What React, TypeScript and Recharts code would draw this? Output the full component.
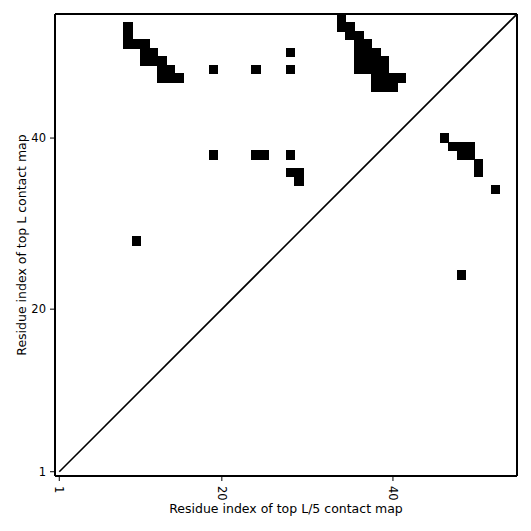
import { ScatterChart, Scatter, XAxis, YAxis, ReferenceArea } from "recharts";

// Contact map: black cells = predicted contacts, diagonal marks i == j.

const AXIS_TICKS = [1, 20, 40];
const AXIS_DOMAIN: [number, number] = [0.5, 54.5];

// residue pairs (column = x residue, row = y residue)
const CONTACT_X = [
  9, 9, 9, 10, 11, 11, 12, 11, 12, 13, 13, 14, 13, 14, 15,
  19, 24, 28, 28,
  34, 34, 35, 35, 36, 36, 37, 36, 37, 38, 36, 37, 38, 39, 36, 37, 38, 39, 38, 39, 40, 41, 38, 39, 40,
  19, 24, 25, 28, 28, 29, 29,
  46, 47, 48, 49, 48, 49, 50, 50, 52,
  10, 48,
];
const CONTACT_Y = [
  53, 52, 51, 51, 51, 50, 50, 49, 49, 49, 48, 48, 47, 47, 47,
  48, 48, 50, 48,
  54, 53, 53, 52, 52, 51, 51, 50, 50, 50, 49, 49, 49, 49, 48, 48, 48, 48, 47, 47, 47, 47, 46, 46, 46,
  38, 38, 38, 38, 36, 36, 35,
  40, 39, 39, 39, 38, 38, 37, 36, 34,
  28, 24,
];

const DIAGONAL = [
  { x: 1, y: 1 },
  { x: 54.5, y: 54.5 },
];

const FONT = "DejaVu Sans, sans-serif";

const XTick = (props: any) => {
  const { x, y, payload } = props;
  const ty = y + 3;
  return (
    <text
      x={x}
      y={ty}
      transform={`rotate(90, ${x}, ${ty})`}
      textAnchor="start"
      dominantBaseline="central"
      fontSize={11.5}
      fontFamily={FONT}
      fill="#000"
    >
      {payload.value}
    </text>
  );
};

const XLabel = (props: any) => {
  const vb = props.viewBox;
  return (
    <text
      x={vb.x + vb.width / 2}
      y={vb.y + 37}
      textAnchor="middle"
      fontSize={12.5}
      fontFamily={FONT}
      fill="#000"
    >
      Residue index of top L/5 contact map
    </text>
  );
};

const YLabel = (props: any) => {
  const vb = props.viewBox;
  const cx = vb.x + 11;
  const cy = vb.y + vb.height / 2;
  return (
    <text
      x={cx}
      y={cy}
      transform={`rotate(-90, ${cx}, ${cy})`}
      textAnchor="middle"
      dominantBaseline="central"
      fontSize={12.5}
      fontFamily={FONT}
      fill="#000"
    >
      Residue index of top L contact map
    </text>
  );
};

export default function App() {
  return (
    <div style={{ position: "absolute", left: 0, top: 0, width: 531, height: 531, background: "#fff" }}>
      <ScatterChart width={531} height={531} margin={{ top: 4, right: 4, bottom: 15, left: 10 }}>
        <XAxis
          dataKey="x"
          type="number"
          domain={AXIS_DOMAIN}
          ticks={AXIS_TICKS}
          allowDataOverflow
          height={40}
          tickSize={5}
          tick={<XTick />}
          tickLine={{ stroke: "#000" }}
          axisLine={{ stroke: "#000", strokeWidth: 2 }}
          label={XLabel}
        />
        <XAxis
          xAxisId="top"
          orientation="top"
          type="number"
          domain={AXIS_DOMAIN}
          ticks={AXIS_TICKS}
          allowDataOverflow
          height={10}
          tickSize={5}
          tick={false}
          tickLine={{ stroke: "#000" }}
          axisLine={{ stroke: "#000", strokeWidth: 2 }}
        />
        <YAxis
          dataKey="y"
          type="number"
          domain={AXIS_DOMAIN}
          ticks={AXIS_TICKS}
          allowDataOverflow
          width={45}
          tickSize={5}
          tickMargin={4}
          tick={{ fill: "#000", fontSize: 11.5, fontFamily: FONT }}
          tickLine={{ stroke: "#000" }}
          axisLine={{ stroke: "#000", strokeWidth: 2 }}
          label={YLabel}
        />
        <YAxis
          yAxisId="right"
          orientation="right"
          type="number"
          domain={AXIS_DOMAIN}
          ticks={AXIS_TICKS}
          allowDataOverflow
          width={10}
          tickSize={5}
          tick={false}
          tickLine={{ stroke: "#000" }}
          axisLine={{ stroke: "#000", strokeWidth: 2 }}
        />
        {CONTACT_X.map((cx, i) => (
          <ReferenceArea
            key={i}
            x1={cx - 0.5}
            x2={cx + 0.5}
            y1={CONTACT_Y[i] - 0.5}
            y2={CONTACT_Y[i] + 0.5}
            fill="#000"
            fillOpacity={1}
            stroke="#000"
            strokeWidth={1}
            shapeRendering="crispEdges"
          />
        ))}
        <Scatter
          data={DIAGONAL}
          line={{ stroke: "#000", strokeWidth: 1.6 }}
          shape={() => <g />}
          isAnimationActive={false}
        />
      </ScatterChart>
    </div>
  );
}
